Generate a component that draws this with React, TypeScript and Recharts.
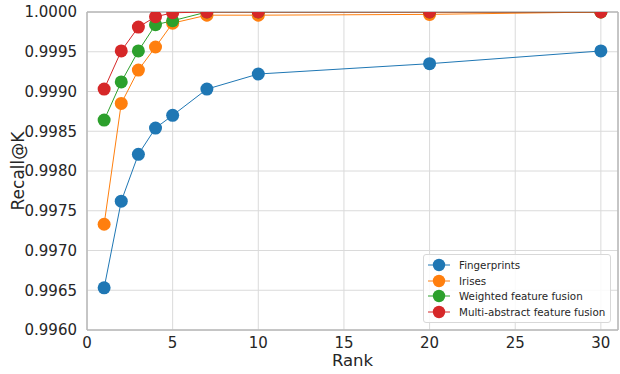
import React from 'react';
import { LineChart, Line, XAxis, YAxis, CartesianGrid, ReferenceLine } from 'recharts';

const ranks = [1, 2, 3, 4, 5, 7, 10, 20, 30];
const fingerprints = [0.99653, 0.99762, 0.99821, 0.99854, 0.9987, 0.99903, 0.99922, 0.99935, 0.99951];
const irises = [0.99733, 0.99885, 0.99927, 0.99956, 0.99986, 0.99996, 0.99996, 0.99997, 1.0];
const weighted = [0.99864, 0.99912, 0.99951, 0.99984, 0.99989, 1.0, 1.0, 1.0, 1.0];
const multiAbstract = [0.99903, 0.99951, 0.99981, 0.99994, 0.99999, 1.0, 1.0, 1.0, 1.0];

const xTicks = [0, 5, 10, 15, 20, 25, 30];
const yTicks = [0.996, 0.9965, 0.997, 0.9975, 0.998, 0.9985, 0.999, 0.9995, 1.0];

const seriesNames = ['Fingerprints', 'Irises', 'Weighted feature fusion', 'Multi-abstract feature fusion'];
const seriesKeys = ['fp', 'ir', 'wf', 'ma'];
const seriesColors = ['#1f77b4', '#ff7f0e', '#2ca02c', '#d62728'];
const seriesValues = [fingerprints, irises, weighted, multiAbstract];

const data = ranks.map((r, i) => {
  const row: Record<string, number> = { rank: r };
  seriesKeys.forEach((k, j) => {
    row[k] = seriesValues[j][i];
  });
  return row;
});

const FONT = 'DejaVu Sans, sans-serif';

// layout
const W = 620;
const H = 374;
const M = { top: 12, right: 2, bottom: 0, left: 0 };
const Y_AXIS_W = 87;
const X_AXIS_H = 44;
const PLOT_TOP = M.top;
const DOT_R = 6.5;

const LegendBox = () => (
  <div
    style={{
      position: 'absolute',
      left: 423,
      top: 254,
      background: 'rgba(255,255,255,0.85)',
      border: '1px solid #d8d8d8',
      borderRadius: 3,
      padding: '2px 5px 2px 3px',
      fontFamily: FONT,
      fontSize: 10.3,
      color: '#262626',
      whiteSpace: 'nowrap',
    }}
  >
    {seriesNames.map((n, i) => (
      <div key={n} style={{ display: 'flex', alignItems: 'center', height: 15.7 }}>
        <svg width={24} height={14} style={{ marginRight: 8 }}>
          <line x1={1} y1={7} x2={23} y2={7} stroke={seriesColors[i]} strokeWidth={1} />
          <circle cx={12} cy={7} r={6.2} fill={seriesColors[i]} />
        </svg>
        <span>{n}</span>
      </div>
    ))}
  </div>
);

// dot clipped at the top of the plot area (like matplotlib's axes clipping)
const makeDot = (color: string) => (props: any) => {
  const { cx, cy, index } = props;
  const key = `d-${index}`;
  if (cx == null || cy == null) return <g key={key} />;
  const d = PLOT_TOP - cy;
  if (d <= -DOT_R) return <circle key={key} cx={cx} cy={cy} r={DOT_R} fill={color} />;
  if (d >= DOT_R) return <g key={key} />;
  const w = Math.sqrt(DOT_R * DOT_R - d * d);
  const large = d < 0 ? 1 : 0;
  const path = `M ${cx - w} ${PLOT_TOP} A ${DOT_R} ${DOT_R} 0 ${large} 0 ${cx + w} ${PLOT_TOP} Z`;
  return <path key={key} d={path} fill={color} />;
};

export default function App() {
  return (
    <div style={{ position: 'absolute', left: 0, top: 0, width: W, height: H, background: '#fff' }}>
      <LineChart width={W} height={H} data={data} margin={M}>
        <CartesianGrid stroke="#dadada" strokeWidth={1} />
        <XAxis
          dataKey="rank"
          type="number"
          domain={[0, 31]}
          ticks={xTicks}
          allowDataOverflow
          height={X_AXIS_H}
          tickLine={false}
          axisLine={{ stroke: '#b8b8b8', strokeWidth: 1.5 }}
          tick={{ fill: '#262626', fontSize: 15, fontFamily: FONT }}
          tickMargin={1}
          label={{ value: 'Rank', position: 'insideBottom', offset: 8, fill: '#262626', fontSize: 16.5, fontFamily: FONT }}
        />
        <YAxis
          type="number"
          domain={[0.996, 1.0]}
          ticks={yTicks}
          allowDataOverflow
          width={Y_AXIS_W}
          tickLine={false}
          axisLine={{ stroke: '#b8b8b8', strokeWidth: 1.5 }}
          tick={{ fill: '#262626', fontSize: 15, fontFamily: FONT }}
          tickMargin={4}
          tickFormatter={(v: number) => v.toFixed(4)}
          label={{ value: 'Recall@K', angle: -90, position: 'insideLeft', offset: 18, fill: '#262626', fontSize: 17, fontFamily: FONT, style: { textAnchor: 'middle' } }}
        />
        <ReferenceLine y={1.0} stroke="#b8b8b8" strokeWidth={1.5} />
        <ReferenceLine x={31} stroke="#b8b8b8" strokeWidth={1.5} />
        {seriesKeys.map((k, i) => (
          <Line
            key={k}
            dataKey={k}
            name={seriesNames[i]}
            type="linear"
            stroke={seriesColors[i]}
            strokeWidth={1}
            dot={makeDot(seriesColors[i])}
            activeDot={false}
            isAnimationActive={false}
          />
        ))}
      </LineChart>
      <LegendBox />
    </div>
  );
}
